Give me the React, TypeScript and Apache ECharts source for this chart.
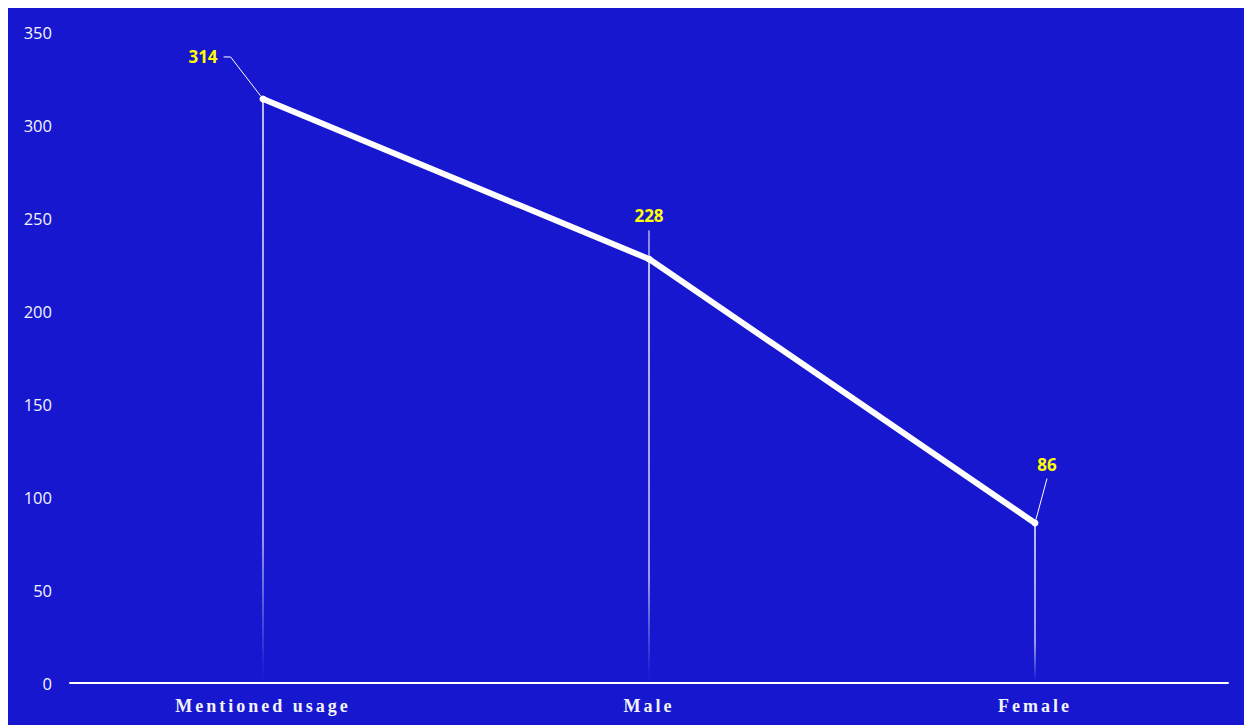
import React, { useEffect, useRef } from "react";
import * as echarts from "echarts";

const categories: string[] = ["Mentioned usage", "Male", "Female"];
const values: number[] = [314, 228, 86];
const yTicks = { min: 0, max: 350, interval: 50 };

const BG = "#1717D0";

export default function App() {
  const ref = useRef<HTMLDivElement>(null);

  useEffect(() => {
    if (!ref.current) return;
    const chart = echarts.init(ref.current, undefined, { renderer: "svg" });
    const labelShift = [
      { dx: -60, dy: -19 },
      { dx: 0, dy: -20 },
      { dx: 12, dy: -36 },
    ];
    const guideLength = [7, 7, 0];
    const lineData = values.map((v, i) => ({
      value: v,
      labelLine: { length2: guideLength[i] },
    }));
    chart.setOption({
      animation: false,
      backgroundColor: BG,
      grid: { left: 62, right: 16, top: 24, bottom: 42 },
      xAxis: {
        type: "category",
        data: categories,
        boundaryGap: true,
        axisLine: { show: true, lineStyle: { color: "#FFFFFF", width: 2 } },
        axisTick: { show: false },
        axisLabel: {
          color: "#F2F2FA",
          fontFamily: "Liberation Serif",
          fontWeight: "bold",
          fontSize: 18,
          margin: 14,
        },
        splitLine: { show: false },
      },
      yAxis: {
        type: "value",
        min: yTicks.min,
        max: yTicks.max,
        interval: yTicks.interval,
        axisLine: { show: false },
        axisTick: { show: false },
        splitLine: { show: false },
        axisLabel: {
          color: "#F4F4FA",
          fontFamily: "Open Sans",
          fontSize: 16.5,
          margin: 18,
        },
      },
      series: [
        {
          type: "bar",
          data: values,
          barWidth: 1.5,
          silent: true,
          z: 1,
          itemStyle: {
            color: new echarts.graphic.LinearGradient(0, 0, 0, 1, [
              { offset: 0, color: "rgba(255,255,255,0.95)" },
              { offset: 0.75, color: "rgba(255,255,255,0.75)" },
              { offset: 0.97, color: "rgba(255,255,255,0.05)" },
              { offset: 1, color: "rgba(255,255,255,0)" },
            ]),
          },
        },
        {
          type: "line",
          data: lineData,
          z: 3,
          symbol: "circle",
          symbolSize: 7,
          showSymbol: true,
          lineStyle: { color: "#FFFFFF", width: 6 },
          itemStyle: { color: "#FFFFFF" },
          label: {
            show: true,
            position: "top",
            color: "#FFFF00",
            fontFamily: "Open Sans",
            fontWeight: "bold",
            fontSize: 17,
            padding: [6, 6, 6, 6],
            backgroundColor: "rgba(0,0,0,0)",
            formatter: "{c}",
          },
          labelLine: {
            show: true,
            length2: 7,
            lineStyle: { color: "#FFFFFF", width: 1 },
          },
          labelLayout: (params: any) => labelShift[params.dataIndex] || {},
        },
      ],
    });
    return () => chart.dispose();
  }, []);

  return (
    <>
      <style>{`#chartbox text[style*="Liberation Serif"] { letter-spacing: 3px; }`}</style>
      <div
        id="chartbox"
        ref={ref}
        style={{
          position: "fixed",
          left: 8,
          top: 8,
          width: 1236,
          height: 717,
          background: BG,
        }}
      />
    </>
  );
}
